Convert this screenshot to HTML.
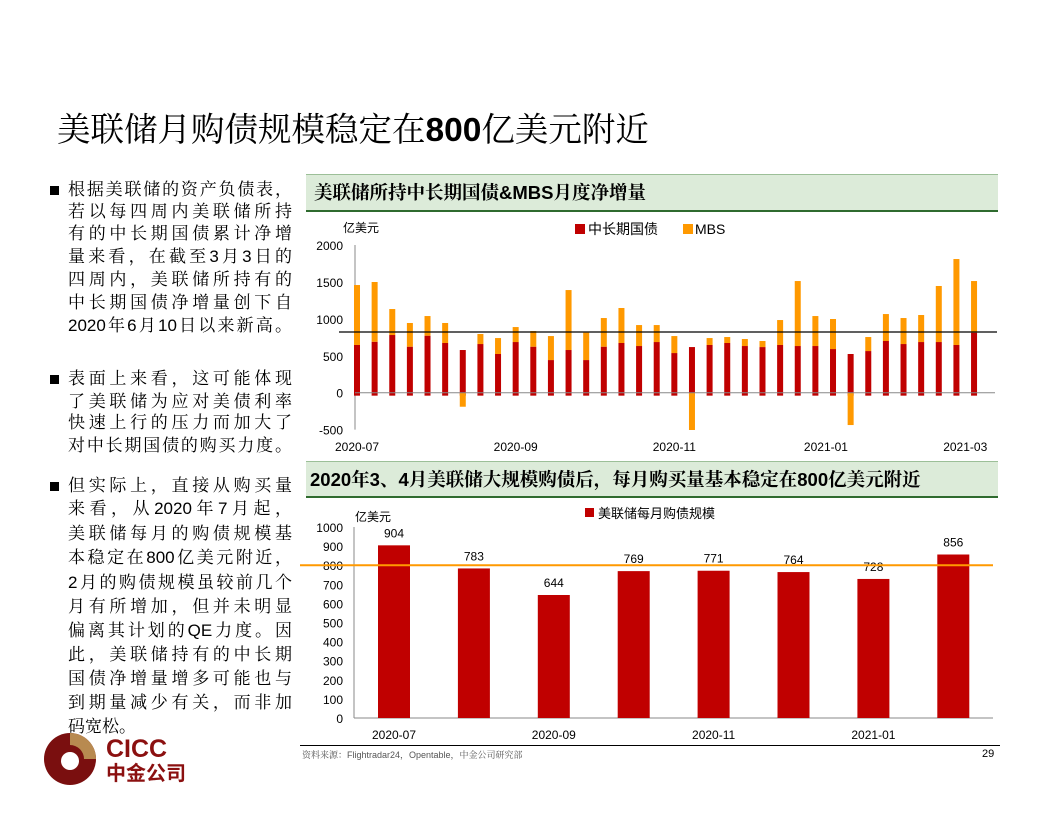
<!DOCTYPE html>
<html><head><meta charset="utf-8"><style>
body{margin:0;width:1056px;height:816px;background:#fff;overflow:hidden;position:relative;font-family:"Liberation Sans","Noto Serif CJK SC","Noto Sans CJK SC",serif;}
.abs{position:absolute}
.title{left:57px;top:102px;font-size:33.5px;white-space:nowrap;color:#000;font-family:"Liberation Sans","Noto Serif CJK SC",serif;}
.title b{font-family:"Liberation Sans",sans-serif}
.ln{position:absolute;left:68px;width:224px;font-size:17px;line-height:20px;height:20px;text-align:justify;text-align-last:justify;white-space:nowrap;color:#000;font-family:"Liberation Sans","Noto Serif CJK SC",serif}
.bul{position:absolute;left:50px;width:9px;height:9px;background:#000}
.hdr{position:absolute;left:306px;width:692px;background:#dcebd9;border-top:1px solid #9cbf98;border-bottom:2px solid #2f6b2f;font-size:18.5px;font-weight:bold;padding-left:8px;box-sizing:border-box;white-space:nowrap;font-family:"Liberation Sans","Noto Serif CJK SC",serif}
</style></head><body>
<div class="abs title">美联储月购债规模稳定在<b>800</b>亿美元附近</div>

<div>
<div class="bul" style="top:186px"></div>
<div class="ln" style="top:180px">根据美联储的资产负债表，</div>
<div class="ln" style="top:202px">若以每四周内美联储所持</div>
<div class="ln" style="top:224px">有的中长期国债累计净增</div>
<div class="ln" style="top:247px">量来看，在截至3月3日的</div>
<div class="ln" style="top:270px">四周内，美联储所持有的</div>
<div class="ln" style="top:293px">中长期国债净增量创下自</div>
<div class="ln" style="top:316px">2020年6月10日以来新高。</div>
<div class="bul" style="top:375px"></div>
<div class="ln" style="top:369px">表面上来看，这可能体现</div>
<div class="ln" style="top:392px">了美联储为应对美债利率</div>
<div class="ln" style="top:413px">快速上行的压力而加大了</div>
<div class="ln" style="top:436px">对中长期国债的购买力度。</div>
<div class="bul" style="top:482px"></div>
<div class="ln" style="top:476px">但实际上，直接从购买量</div>
<div class="ln" style="top:499px">来看，从2020年7月起，</div>
<div class="ln" style="top:524px">美联储每月的购债规模基</div>
<div class="ln" style="top:548px">本稳定在800亿美元附近，</div>
<div class="ln" style="top:573px">2月的购债规模虽较前几个</div>
<div class="ln" style="top:597px">月有所增加，但并未明显</div>
<div class="ln" style="top:621px">偏离其计划的QE力度。因</div>
<div class="ln" style="top:645px">此，美联储持有的中长期</div>
<div class="ln" style="top:669px">国债净增量增多可能也与</div>
<div class="ln" style="top:693px">到期量减少有关，而非加</div>
<div class="ln" style="top:717px;text-align-last:left">码宽松。</div>
</div>

<div class="hdr" style="top:174px;height:38px;line-height:36px">美联储所持中长期国债&amp;MBS月度净增量</div>
<div class="hdr" style="top:461px;height:37px;line-height:35px;padding-left:4px">2020年3、4月美联储大规模购债后，每月购买量基本稳定在800亿美元附近</div>

<svg class="abs" style="left:0;top:0" width="1056" height="816" id="charts"></svg>

<div class="abs" style="left:300px;top:745px;width:700px;border-top:1.5px solid #000"></div>
<div class="abs" style="left:302px;top:748px;font-size:9px;color:#555">资料来源：Flightradar24，Opentable，中金公司研究部</div>
<div class="abs" style="left:982px;top:748px;font-size:11px;color:#000">29</div>

<svg class="abs" style="left:40px;top:730px" width="160" height="60">
<circle cx="30" cy="29" r="26" fill="#7a0f0f"/>
<path d="M30 3 A26 26 0 0 1 56 29 L44 29 A14 14 0 0 0 30 15 Z" fill="#b88a50"/>
<circle cx="30" cy="31" r="9" fill="#fff"/>
<text x="66" y="27" font-size="25" font-weight="bold" fill="#8b1010" font-family="Liberation Sans,sans-serif">CICC</text>
<text x="66" y="50" font-size="20" font-weight="bold" fill="#8b1010" font-family="Liberation Sans,Noto Sans CJK SC,sans-serif">中金公司</text>
</svg>

<script>
const weeks=36;
const treasury=[646,690,781,623,772,673,578,659,524,686,623,442,578,442,623,673,632,686,537,618,646,673,632,618,646,632,632,591,524,564,700,659,686,686,646,813];
const mbs=[812,809,352,321,266,271,-190,136,216,203,212,325,812,371,388,474,284,230,230,-505,94,81,95,82,338,880,406,407,-438,190,365,352,366,759,1164,699];
const topTicks=[2000,1500,1000,500,0,-500];
const topXLabels=[{i:0,t:"2020-07"},{i:9,t:"2020-09"},{i:18,t:"2020-11"},{i:26.6,t:"2021-01"},{i:34.5,t:"2021-03"}];
const refTop=822;
const months=["2020-07","2020-08","2020-09","2020-10","2020-11","2020-12","2021-01","2021-02"];
const monthly=[904,783,644,769,771,764,728,856];
const botTicks=[1000,900,800,700,600,500,400,300,200,100,0];
const refBot=800;

const svg=document.getElementById('charts');
const NS='http://www.w3.org/2000/svg';
function mk(tag,a,parent){const e=document.createElementNS(NS,tag);for(const k in a)e.setAttribute(k,a[k]);(parent||svg).appendChild(e);return e;}
const F='Liberation Sans, Noto Sans CJK SC, sans-serif';

// top chart
const y1=v=>392.7-v*0.07385;
const x1=i=>357+i*17.63;
const g1=mk('g',{});


mk('line',{x1:355,y1:y1(2000),x2:355,y2:y1(-500),stroke:'#888','stroke-width':1},g1);
topTicks.forEach(t=>{const tx=mk('text',{x:343,y:y1(t)+5,'text-anchor':'end','font-size':12,'font-family':F},g1);tx.textContent=t;

});
for(let i=0;i<weeks;i++){
  const w=6,cx=x1(i);
  const r=mk('rect',{x:cx-w/2,y:y1(treasury[i]),width:w,height:y1(-40)-y1(treasury[i]),fill:'#c00000'},g1);
  
  
  let m;
  if(mbs[i]>=0) m=mk('rect',{x:cx-w/2,y:y1(treasury[i]+mbs[i]),width:w,height:y1(treasury[i])-y1(treasury[i]+mbs[i]),fill:'#ff9900'},g1);
  else m=mk('rect',{x:cx-w/2,y:y1(0),width:w,height:y1(mbs[i])-y1(0),fill:'#ff9900'},g1);
  
  
}
mk('line',{x1:355,y1:y1(0),x2:995,y2:y1(0),stroke:'#888','stroke-width':1},g1);
const rl=mk('line',{x1:339,y1:y1(refTop),x2:997,y2:y1(refTop),stroke:'#000','stroke-width':1.2},g1);


topXLabels.forEach(l=>{const tx=mk('text',{x:x1(l.i),y:451,'text-anchor':'middle','font-size':12,'font-family':F},g1);tx.textContent=l.t;

});
let t=mk('text',{x:343,y:232,'font-size':12,'font-family':F},g1);t.textContent='亿美元';


mk('rect',{x:575,y:224,width:10,height:10,fill:'#c00000'},g1);
t=mk('text',{x:588,y:234,'font-size':14,'font-family':F},g1);t.textContent='中长期国债';


mk('rect',{x:683,y:224,width:10,height:10,fill:'#ff9900'},g1);
t=mk('text',{x:695,y:234,'font-size':14,'font-family':F},g1);t.textContent='MBS';



// bottom chart
const y2=v=>718-v*0.191;
const x2=i=>394+i*79.9;
const g2=mk('g',{});


mk('line',{x1:354,y1:y2(1000),x2:354,y2:y2(0),stroke:'#888'},g2);
mk('line',{x1:354,y1:y2(0),x2:993,y2:y2(0),stroke:'#888'},g2);
botTicks.forEach(v=>{const tx=mk('text',{x:343,y:y2(v)+5,'text-anchor':'end','font-size':12,'font-family':F},g2);tx.textContent=v;

});
monthly.forEach((v,i)=>{
  const r=mk('rect',{x:x2(i)-16,y:y2(v),width:32,height:y2(0)-y2(v),fill:'#c00000'},g2);
  
  
  const tx=mk('text',{x:x2(i),y:y2(v)-8,'text-anchor':'middle','font-size':12,'font-family':F},g2);tx.textContent=v;
  
  
  if(i%2===0){const lx=mk('text',{x:x2(i),y:739,'text-anchor':'middle','font-size':12,'font-family':F},g2);lx.textContent=months[i];
  
  }
});
const ol=mk('line',{x1:300,y1:y2(refBot),x2:993,y2:y2(refBot),stroke:'#ff9900','stroke-width':2},g2);


t=mk('text',{x:355,y:521,'font-size':12,'font-family':F},g2);t.textContent='亿美元';


mk('rect',{x:585,y:508,width:9,height:9,fill:'#c00000'},g2);
t=mk('text',{x:598,y:518,'font-size':13,'font-family':F},g2);t.textContent='美联储每月购债规模';


</script>
</body></html>
